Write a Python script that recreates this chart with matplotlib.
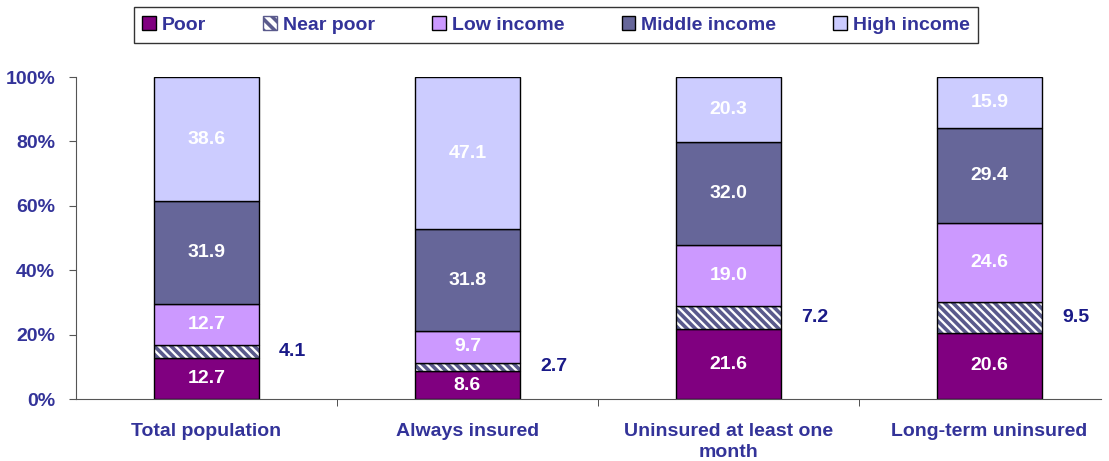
import matplotlib.pyplot as plt
import numpy as np
from matplotlib.patches import Patch

categories = ["Total population", "Always insured", "Uninsured at least one\nmonth", "Long-term uninsured"]
series_names = ["Poor", "Near poor", "Low income", "Middle income", "High income"]
poor = [12.7, 8.6, 21.6, 20.6]
near_poor = [4.1, 2.7, 7.2, 9.5]
low_income = [12.7, 9.7, 19.0, 24.6]
middle_income = [31.9, 31.8, 32.0, 29.4]
high_income = [38.6, 47.1, 20.3, 15.9]
yticks = [0, 20, 40, 60, 80, 100]

colors = ["#800080", "#FFFFFF", "#CC99FF", "#666699", "#CCCCFF"]
hatch_color = "#5a5a8c"
navy = "#333399"
label_navy = "#1a1a88"
fs = 14

plt.rcParams["font.family"] = ["Liberation Sans", "DejaVu Sans"]
plt.rcParams["font.weight"] = "bold"
plt.rcParams["hatch.linewidth"] = 2.6

fig = plt.figure(figsize=(11.09, 4.61), dpi=100)
ax = fig.add_axes([76 / 1109, 62 / 461, 1 - 76 / 1109 - 8 / 1109, 322 / 461])

x = np.arange(len(categories))
width = 0.406
series = [poor, near_poor, low_income, middle_income, high_income]
bottom = np.zeros(len(categories))
for i, vals in enumerate(series):
    vals = np.array(vals)
    if i == 1:
        ax.bar(x, vals, width, bottom=bottom, color="white", edgecolor=hatch_color,
               hatch="\\\\\\\\", linewidth=0)
        ax.bar(x, vals, width, bottom=bottom, color="none", edgecolor="black", linewidth=1)
        for xi, b, v in zip(x, bottom, vals):
            ax.text(xi + 0.33, b + v / 2, f"{v:.1f}", ha="center", va="center",
                    color=label_navy, fontsize=fs, fontweight="bold")
    else:
        ax.bar(x, vals, width, bottom=bottom, color=colors[i], edgecolor="black", linewidth=1)
        for xi, b, v in zip(x, bottom, vals):
            ax.text(xi, b + v / 2, f"{v:.1f}", ha="center", va="center",
                    color="white", fontsize=fs, fontweight="bold")
    bottom += vals

ax.set_xlim(-0.5, (1101 - 76) / 261 - 0.5)
ax.set_ylim(0, 100)
ax.set_yticks(yticks)
ax.set_yticklabels([f"{t}%" for t in yticks], color=navy, fontsize=fs, fontweight="bold")
ax.set_xticks(x)
ax.set_xticklabels(categories, color=navy, fontsize=fs, fontweight="bold", linespacing=1.35)
ax.set_xticks(x[:-1] + 0.5, minor=True)
ax.tick_params(axis="x", which="major", length=0, pad=17)
ax.tick_params(axis="x", which="minor", length=5, color="#333333", direction="out")
ax.tick_params(axis="y", length=5, color="#555555", pad=10)
for side in ["top", "right"]:
    ax.spines[side].set_visible(False)
for side in ["left", "bottom"]:
    ax.spines[side].set_color("#555555")

handles = []
for i, name in enumerate(series_names):
    if i == 1:
        handles.append(Patch(facecolor="white", edgecolor=hatch_color, hatch="\\\\\\", label=name))
    else:
        handles.append(Patch(facecolor=colors[i], edgecolor="black", label=name))
leg = fig.legend(handles=handles, loc="center", bbox_to_anchor=(556 / 1109, 1 - 25 / 461),
                 ncol=5, frameon=True, fancybox=False, handlelength=0.7, handleheight=0.7,
                 columnspacing=2.95, handletextpad=0.3, borderpad=0.45,
                 prop={"size": fs, "weight": "bold"})
leg.get_frame().set_edgecolor("black")
leg.get_frame().set_linewidth(1)
for t in leg.get_texts():
    t.set_color(navy)

fig.savefig("out.png", dpi=100)
